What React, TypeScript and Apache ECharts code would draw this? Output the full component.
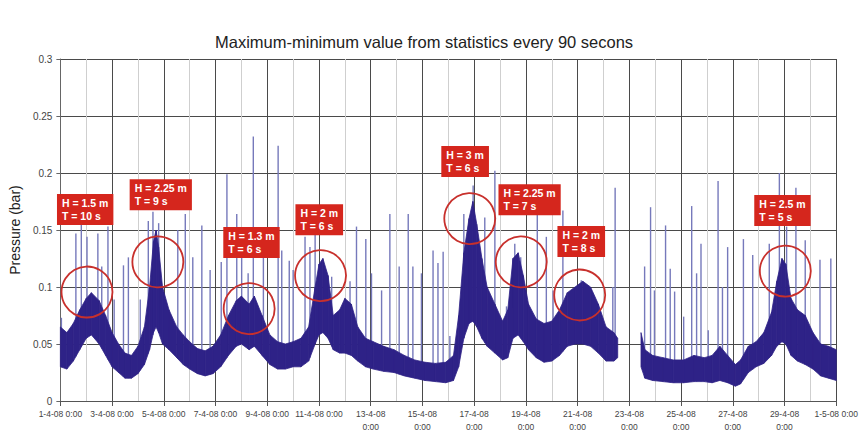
import { useEffect, useRef } from "react";
import * as echarts from "echarts";

// ---- data (x = days since 1-4-08 0:00) ----
const titleText = "Maximum-minimum value from statistics every 90 secons";
const yAxisName = "Pressure (bar)";

const xTickLabels = [
  "1-4-08 0:00", "3-4-08 0:00", "5-4-08 0:00", "7-4-08 0:00", "9-4-08 0:00",
  "11-4-08 0:00", "13-4-08\n0:00", "15-4-08\n0:00", "17-4-08\n0:00", "19-4-08\n0:00",
  "21-4-08\n0:00", "23-4-08\n0:00", "25-4-08\n0:00", "27-4-08\n0:00", "29-4-08\n0:00",
  "1-5-08 0:00",
];

// dense band of the 90 s statistics (lower and upper edge)
const bandDays = [
  0, 0.25, 0.5, 0.75, 1.0, 1.2, 1.5, 1.75, 2.0, 2.25, 2.5, 2.75, 3.0, 3.25, 3.45, 3.6, 3.7, 3.8, 3.95,
  4.2, 4.5, 4.75, 5.0, 5.3, 5.6, 5.9, 6.2, 6.5, 6.8, 7.0, 7.3, 7.5, 7.8, 8.1, 8.4, 8.7, 9.0, 9.3, 9.6,
  9.85, 10.0, 10.15, 10.35, 10.55, 10.8, 11.0, 11.25, 11.5, 11.8, 12.1, 12.5, 12.9, 13.3, 13.7, 14.1,
  14.5, 14.9, 15.2, 15.4, 15.6, 15.8, 15.95, 16.1, 16.3, 16.5, 16.8, 17.1, 17.3, 17.5, 17.7, 17.9, 18.1,
  18.4, 18.7, 19.0, 19.3, 19.6, 19.9, 20.2, 20.5, 20.8, 21.1, 21.4, 21.55, 22.0, 22.45, 22.6, 22.9,
  23.3, 23.7, 24.1, 24.5, 24.9, 25.2, 25.5, 25.8, 26.1, 26.3, 26.6, 26.9, 27.2, 27.5, 27.7, 27.9, 28.05,
  28.25, 28.5, 28.8, 29.1, 29.4, 29.7, 30.0,
];
const bandLow = [
  0.030, 0.028, 0.035, 0.045, 0.055, 0.058, 0.050, 0.040, 0.030, 0.025, 0.020, 0.020, 0.024, 0.032, 0.045,
  0.060, 0.065, 0.060, 0.050, 0.045, 0.038, 0.032, 0.028, 0.024, 0.022, 0.024, 0.030, 0.040, 0.048, 0.050,
  0.045, 0.048, 0.040, 0.032, 0.028, 0.028, 0.030, 0.030, 0.035, 0.050, 0.058, 0.060, 0.055, 0.045, 0.042,
  0.042, 0.040, 0.035, 0.030, 0.028, 0.026, 0.025, 0.022, 0.020, 0.018, 0.017, 0.016, 0.018, 0.030, 0.055,
  0.068, 0.070, 0.065, 0.055, 0.048, 0.042, 0.036, 0.038, 0.055, 0.058, 0.052, 0.045, 0.038, 0.034, 0.035,
  0.040, 0.048, 0.050, 0.050, 0.048, 0.042, 0.035, 0.035, 0.038, null, 0.030, 0.020, 0.018, 0.017, 0.016,
  0.016, 0.017, 0.017, 0.016, 0.018, 0.016, 0.013, 0.015, 0.025, 0.030, 0.033, 0.040, 0.048, 0.052, 0.050,
  0.040, 0.035, 0.032, 0.028, 0.022, 0.020, 0.018,
];
const bandHigh = [
  0.065, 0.060, 0.068, 0.080, 0.090, 0.095, 0.088, 0.075, 0.060, 0.050, 0.042, 0.040, 0.048, 0.065, 0.100,
  0.140, 0.150, 0.135, 0.100, 0.080, 0.065, 0.058, 0.052, 0.046, 0.044, 0.048, 0.058, 0.075, 0.088, 0.092,
  0.085, 0.092, 0.075, 0.058, 0.052, 0.050, 0.052, 0.055, 0.065, 0.100, 0.120, 0.125, 0.110, 0.075, 0.080,
  0.090, 0.085, 0.065, 0.055, 0.052, 0.048, 0.045, 0.040, 0.036, 0.034, 0.033, 0.034, 0.040, 0.075, 0.130,
  0.160, 0.175, 0.155, 0.125, 0.100, 0.085, 0.070, 0.080, 0.125, 0.130, 0.110, 0.085, 0.072, 0.068, 0.070,
  0.080, 0.095, 0.100, 0.105, 0.100, 0.085, 0.065, 0.060, 0.055, null, 0.060, 0.045, 0.040, 0.038, 0.036,
  0.036, 0.040, 0.038, 0.040, 0.048, 0.040, 0.032, 0.036, 0.048, 0.052, 0.060, 0.078, 0.105, 0.125, 0.120,
  0.090, 0.080, 0.075, 0.060, 0.050, 0.048, 0.045,
];

// isolated peaks (thin light lines)
const spikeDays = [
  0.04, 0.6, 0.81, 1.03, 1.45, 1.6, 1.84, 2.08, 2.44, 2.63, 3.09, 3.4, 3.58, 3.8, 4.54, 4.83, 5.12, 5.47,
  5.79, 6.22, 6.44, 6.82, 7.01, 7.26, 7.46, 7.85, 8.42, 8.56, 8.85, 9.0, 9.46, 9.65, 9.85, 10.49, 10.87,
  11.2, 11.45, 11.81, 12.03, 12.42, 12.74, 13.1, 13.45, 13.63, 13.96, 14.41, 14.6, 14.8, 15.06, 15.6,
  15.96, 16.41, 16.8, 17.25, 17.57, 17.8, 18.44, 18.79, 19.05, 19.43, 20.14, 20.3, 21.36, 21.45, 22.59,
  22.82, 22.97, 23.4, 23.58, 23.75, 24.1, 24.41, 24.6, 24.77, 25.05, 25.43, 25.6, 25.8, 26.41, 26.77,
  27.41, 27.8, 28.08, 28.44, 28.8, 29.37, 29.79,
];
const spikeValues = [
  0.073, 0.147, 0.18, 0.144, 0.147, 0.118, 0.153, 0.089, 0.119, 0.126, 0.089, 0.158, 0.166, 0.156, 0.15,
  0.164, 0.126, 0.154, 0.115, 0.122, 0.199, 0.164, 0.132, 0.112, 0.232, 0.126, 0.224, 0.132, 0.123, 0.115,
  0.144, 0.135, 0.158, 0.109, 0.077, 0.105, 0.153, 0.142, 0.112, 0.097, 0.164, 0.118, 0.164, 0.118, 0.112,
  0.132, 0.121, 0.131, 0.057, 0.164, 0.189, 0.161, 0.202, 0.083, 0.138, 0.126, 0.164, 0.144, 0.097, 0.167,
  0.106, 0.1, 0.1, 0.187, 0.118, 0.17, 0.097, 0.154, 0.116, 0.096, 0.074, 0.171, 0.112, 0.138, 0.062,
  0.193, 0.1, 0.135, 0.142, 0.128, 0.138, 0.2, 0.153, 0.187, 0.141, 0.124, 0.125,
];

// storm events: circle centres and label boxes
const circleDays = [1.03, 3.77, 7.3, 10.06, 15.83, 17.82, 20.08, 28.03];
const circleValues = [0.0956, 0.122, 0.081, 0.110, 0.160, 0.122, 0.093, 0.114];
const boxTexts = [
  "H = 1.5 m\nT = 10 s", "H = 2.25 m\nT = 9 s", "H = 1.3 m\nT = 6 s", "H = 2 m\nT = 6 s",
  "H = 3 m\nT = 6 s", "H = 2.25 m\nT = 7 s", "H = 2 m\nT = 8 s", "H = 2.5 m\nT = 5 s",
];
const boxDays = [-0.15, 2.66, 6.28, 9.07, 14.71, 16.92, 19.2, 26.81];
const boxValues = [0.168, 0.181, 0.139, 0.159, 0.21, 0.1766, 0.14, 0.167];

const FONT = "'Liberation Sans', Arial, sans-serif";
const BAND = "#2e2287";
const SPIKE = "#7679bb";
const RED = "#d5261d";

// where a peak line leaves the dense band (drawing position only)
function bandBase(d: number): number {
  for (let i = 0; i < bandDays.length - 1; i++) {
    if (d >= bandDays[i] && d <= bandDays[i + 1]) {
      const a = bandLow[i], b = bandLow[i + 1];
      if (a == null && b == null) return 0;
      if (a == null) return b as number;
      if (b == null) return a as number;
      const t = (d - bandDays[i]) / (bandDays[i + 1] - bandDays[i]);
      return a + (b - a) * t;
    }
  }
  return 0;
}

export default function App() {
  const ref = useRef<HTMLDivElement>(null);
  useEffect(() => {
    document.body.style.margin = "0";
    const chart = echarts.init(ref.current!, null, { renderer: "svg" });
    const segData: any[] = [];
    for (let i = 0; i < bandDays.length - 1; i++) {
      const a0 = bandLow[i], a1 = bandHigh[i], b0 = bandLow[i + 1], b1 = bandHigh[i + 1];
      if (a0 == null || a1 == null || b0 == null || b1 == null) continue;
      segData.push([bandDays[i], a0, a1, bandDays[i + 1], b0, b1]);
    }
    const spikeData = spikeDays.map((d, i) => [d, bandBase(d), spikeValues[i]]);
    const option: any = {
      animation: false,
      textStyle: { fontFamily: FONT },
      title: {
        text: titleText,
        left: 210,
        top: 28,
        textStyle: { fontSize: 16.5, fontWeight: "normal", color: "#222", fontFamily: FONT },
      },
      grid: { left: 60, right: 24, top: 59, bottom: 30 },
      xAxis: {
        type: "value",
        min: 0,
        max: 30,
        interval: 2,
        axisLine: { show: true, lineStyle: { color: "#555", width: 1 } },
        axisTick: { show: true, length: 5, lineStyle: { color: "#555" } },
        axisLabel: {
          fontSize: 8.5,
          color: "#444",
          margin: 6,
          lineHeight: 13,
          showMinLabel: true,
          showMaxLabel: true,
          formatter: (v: number) => xTickLabels[Math.round(v / 2)] ?? "",
        },
        splitLine: { show: true, lineStyle: { color: "#4a4a4a", width: 1 } },
        minorTick: { show: false, splitNumber: 2 },
        minorSplitLine: { show: true, lineStyle: { color: "#cfcfcf", width: 1 } },
      },
      yAxis: {
        type: "value",
        min: 0,
        max: 0.3,
        interval: 0.05,
        name: yAxisName,
        nameLocation: "middle",
        nameRotate: 90,
        nameGap: 33,
        nameTextStyle: { fontSize: 14, color: "#222", fontFamily: FONT },
        axisLine: { show: true, lineStyle: { color: "#666" } },
        axisTick: { show: true, length: 4, lineStyle: { color: "#666" } },
        axisLabel: { fontSize: 10, color: "#444", margin: 8 },
        splitLine: { show: true, lineStyle: { color: "#4a4a4a", width: 1 } },
      },
      series: [
        {
          type: "custom",
          name: "peaks",
          data: spikeData,
          encode: { x: 0, y: [1, 2] },
          z: 2,
          silent: true,
          renderItem: (params: any, api: any) => {
            const p1 = api.coord([api.value(0), api.value(1)]);
            const p2 = api.coord([api.value(0), api.value(2)]);
            return {
              type: "line",
              shape: { x1: p1[0], y1: p1[1], x2: p2[0], y2: p2[1] },
              style: { stroke: SPIKE, lineWidth: 1.4 },
            };
          },
        },
        {
          type: "custom",
          name: "band",
          data: segData,
          encode: { x: [0, 3], y: [1, 2, 4, 5] },
          z: 3,
          silent: true,
          renderItem: (params: any, api: any) => {
            const p1 = api.coord([api.value(0), api.value(1)]);
            const p2 = api.coord([api.value(3), api.value(4)]);
            const p3 = api.coord([api.value(3), api.value(5)]);
            const p4 = api.coord([api.value(0), api.value(2)]);
            return {
              type: "polygon",
              shape: { points: [p1, p2, p3, p4] },
              style: { fill: BAND, stroke: BAND, lineWidth: 0.8 },
            };
          },
        },
        {
          type: "scatter",
          name: "circles",
          data: circleDays.map((d, i) => [d, circleValues[i]]),
          symbol: "circle",
          symbolSize: 51,
          itemStyle: { color: "rgba(0,0,0,0)", borderColor: "#c8302c", borderWidth: 1.8, opacity: 1 },
          z: 5,
          silent: true,
        },
        {
          type: "scatter",
          name: "boxes",
          clip: false,
          data: boxDays.map((d, i) => ({ value: [d, boxValues[i]], name: boxTexts[i] })),
          symbolSize: 1,
          itemStyle: { color: "rgba(0,0,0,0)", opacity: 1 },
          label: {
            show: true,
            position: "right",
            distance: 0,
            formatter: (p: any) => p.name,
            backgroundColor: RED,
            color: "#fff",
            fontWeight: "bold",
            fontSize: 10.5,
            lineHeight: 12.5,
            padding: [3, 5, 3, 5],
            fontFamily: FONT,
            opacity: 1,
          },
          z: 6,
          silent: true,
        },
      ],
    };
    chart.setOption(option);
    return () => chart.dispose();
  }, []);
  return <div ref={ref} style={{ width: 861, height: 433 }} />;
}
